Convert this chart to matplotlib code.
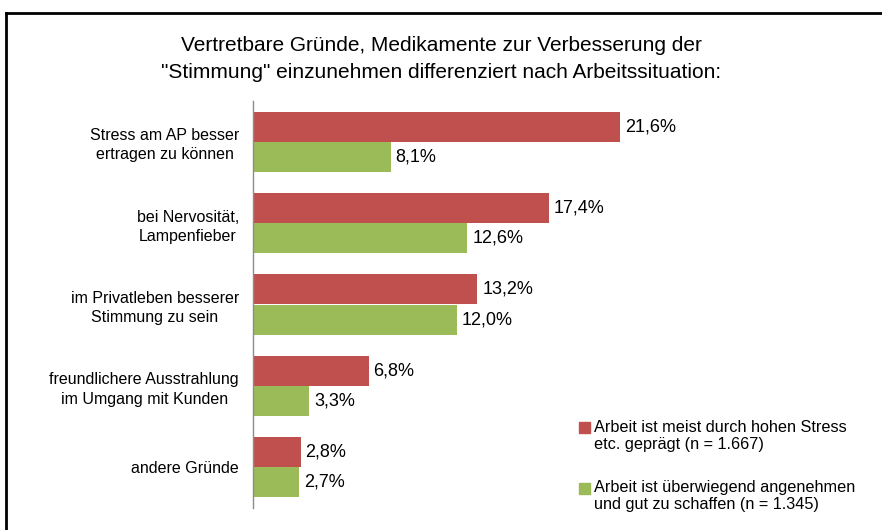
import matplotlib
matplotlib.use("Agg")
import matplotlib.pyplot as plt
from matplotlib.lines import Line2D
from matplotlib.patches import Rectangle

plt.rcParams['font.family'] = ['Liberation Sans', 'DejaVu Sans']

title = 'Vertretbare Gründe, Medikamente zur Verbesserung der\n"Stimmung" einzunehmen differenziert nach Arbeitssituation:'
categories = [
    "Stress am AP besser\nertragen zu können",
    "bei Nervosität,\nLampenfieber",
    "im Privatleben besserer\nStimmung zu sein",
    "freundlichere Ausstrahlung\nim Umgang mit Kunden",
    "andere Gründe",
]
series_names = [
    "Arbeit ist meist durch hohen Stress\netc. geprägt (n = 1.667)",
    "Arbeit ist überwiegend angenehmen\nund gut zu schaffen (n = 1.345)",
]
stress = [21.6, 17.4, 13.2, 6.8, 2.8]
angenehm = [8.1, 12.6, 12.0, 3.3, 2.7]
colors = ["#C0504D", "#9BBB59"]

W, H = 882, 530
fig = plt.figure(figsize=(W / 100, H / 100), dpi=100)

def fx(px):
    return px / W

def fy(py):
    return 1 - py / H

ax_left, ax_right, ax_top, ax_bottom = 253, 870, 101, 508
ax = fig.add_axes([fx(ax_left), fy(ax_bottom), fx(ax_right - ax_left), (ax_bottom - ax_top) / H])

px_per_unit = 17.0
ax.set_xlim(0, (ax_right - ax_left) / px_per_unit)
n = len(categories)
ax.set_ylim(n - 0.5, -0.5)

h = 0.37
ys = list(range(n))
for vals, col, off in [(stress, colors[0], -h / 2), (angenehm, colors[1], h / 2)]:
    yy = [y + off for y in ys]
    ax.barh(yy, vals, height=h, color=col, edgecolor='none')
    for y, v in zip(yy, vals):
        ax.annotate(f"{v:.1f}%".replace('.', ','), xy=(v, y), xytext=(5, 0),
                    textcoords='offset pixels', va='center', ha='left', fontsize=13)

ax.set_yticks(ys)
ax.set_yticklabels(categories, fontsize=11.5, linespacing=1.35, multialignment='center')
ax.tick_params(axis='y', length=0, pad=10)
ax.set_xticks([])
for s in ['top', 'right', 'bottom']:
    ax.spines[s].set_visible(False)
ax.spines['left'].set_color('#8C8C8C')
ax.spines['left'].set_linewidth(1.0)

fig.text(0.5, fy(59), title, ha='center', va='center', fontsize=15, linespacing=1.5)

# legend (manual)
sq_y = [422, 483]
txt_y = [420, 480]
for name, col, ys_, yt in zip(series_names, colors, sq_y, txt_y):
    fig.patches.append(Rectangle((fx(579), fy(ys_ + 11)), fx(11), 11 / H,
                                 transform=fig.transFigure, color=col, figure=fig))
    fig.text(fx(594), fy(yt), name, ha='left', va='top', fontsize=11.7, linespacing=1.2)

# border
fig.lines.append(Line2D([fx(6), fx(6)], [fy(13), -0.1], transform=fig.transFigure, color='black', lw=2, figure=fig))
fig.lines.append(Line2D([fx(6), 1.1], [fy(13), fy(13)], transform=fig.transFigure, color='black', lw=2, figure=fig))

fig.savefig("out.png", dpi=100)
